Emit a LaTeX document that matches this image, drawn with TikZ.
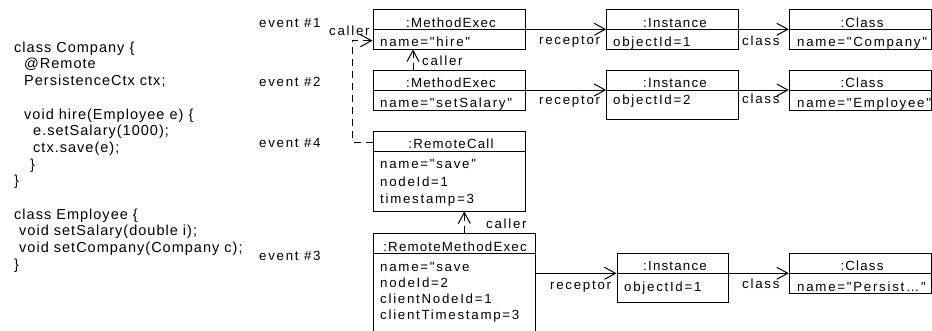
\documentclass[tikz,border=0pt]{standalone}
\usepackage{fontspec}
\setmainfont{Liberation Sans}[LetterSpace=13, Ligatures=TeXOff]
\newfontfamily\codefont{Liberation Sans}[LetterSpace=7, Ligatures=TeXOff]
\newfontfamily\ttlfont{Liberation Sans}[LetterSpace=9, Ligatures=TeXOff]
\usetikzlibrary{arrows.meta,fit}
\tikzset{
  x=1pt, y=-1pt,
  box/.style={draw, line width=1pt, inner sep=0pt},
  txt/.style={inner sep=0pt, anchor=base west, font=\fontsize{13.3}{16}\selectfont},
  code/.style={inner sep=0pt, anchor=base west, font=\codefont\fontsize{14.5}{17}\selectfont},
  ttl/.style={inner sep=0pt, anchor=base, font=\ttlfont\fontsize{13.3}{16}\selectfont},
  assoc/.style={line width=1pt, -{Straight Barb[length=11pt,width=12pt,line width=1pt]}},
  calls/.style={assoc, dash pattern=on 7pt off 5pt},
}
\newcommand\objbox[6]{%
  \coordinate (#1-nw) at (#2,#3);
  \coordinate (#1-se) at (#4,#5);
  \node[box, fit=(#1-nw)(#1-se)] (#1) {};
  \draw[line width=1pt] (#1.west |- 0,#6) -- (#1.east |- 0,#6);
}
\begin{document}
\begin{tikzpicture}
\useasboundingbox (0,0) rectangle (932,330);
\clip (0,0) rectangle (932,330);
% code
\node[code] (c1) at (14,52.2) {class Company \{};
\node[code] (c2) at (24,68.9) {@Remote};
\node[code] (c3) at (24,85.6) {PersistenceCtx ctx;};
\node[code] (c4) at (24,119) {void hire(Employee e) \{};
\node[code] (c5) at (33,135.7) {e.setSalary(1000);};
\node[code] (c6) at (33,152.4) {ctx.save(e);};
\node[code] (c7) at (30,169.1) {\}};
\node[code] (c8) at (14,185.8) {\}};
\node[code] (c9) at (14,219.2) {class Employee \{};
\node[code] (c10) at (19,235.9) {void setSalary(double i);};
\node[code] (c11) at (19,252.6) {void setCompany(Company c);};
\node[code] (c12) at (14,269.3) {\}};
% event labels
\node[txt] (e1) at (259,27.7) {event \#1};
\node[txt] (e2) at (259,86.7) {event \#2};
\node[txt] (e4) at (259,147.7) {event \#4};
\node[txt] (e3) at (259,260.7) {event \#3};
% boxes
\objbox{me1}{373}{9.3}{525}{49}{29.3}
\node[ttl] at (451,27.7) {:MethodExec};
\node[txt] at (380,46) {name="hire"};
\objbox{me2}{373}{70.7}{525}{110}{90}
\node[ttl] at (451,87.7) {:MethodExec};
\node[txt] at (380,107.3) {name="setSalary"};
\objbox{rc}{373}{131}{525}{211}{151.7}
\node[ttl] at (451,148.3) {:RemoteCall};
\node[txt] at (380,168.3) {name="save"};
\node[txt] at (380,186) {nodeId=1};
\node[txt] at (380,203.5) {timestamp=3};
\objbox{rme}{373}{233}{535}{340}{253.3}
\node[ttl] at (455,251) {:RemoteMethodExec};
\node[txt] at (380,271) {name="save};
\node[txt] at (380,287.5) {nodeId=2};
\node[txt] at (380,303.3) {clientNodeId=1};
\node[txt] at (380,319.3) {clientTimestamp=3};
\objbox{in1}{606.7}{9.3}{738.3}{49}{29.3}
\node[ttl] at (675,27.3) {:Instance};
\node[txt] at (613,46.7) {objectId=1};
\objbox{in2}{606.7}{70.7}{738.3}{119.3}{90}
\node[ttl] at (675,87.7) {:Instance};
\node[txt] at (613,104.3) {objectId=2};
\objbox{in3}{617}{253.3}{728}{302.7}{273.3}
\node[ttl] at (675,270.7) {:Instance};
\node[txt] at (624,291.7) {objectId=1};
\objbox{cl1}{789.3}{9.3}{931}{49}{29.3}
\node[ttl] at (862,27.3) {:Class};
\node[txt] at (797,46.7) {name="Company"};
\objbox{cl2}{789.3}{70.7}{931}{110}{90}
\node[ttl] at (862,87.7) {:Class};
\node[txt] at (797,107.3) {name="Employee"};
\objbox{cl3}{789.3}{253.3}{931}{293.3}{273.3}
\node[ttl] at (862,270.7) {:Class};
\node[txt] at (797,291) {name="Persist…"};
% associations
\draw[assoc] (me1.east |- 0,29.3) -- (in1.west |- 0,29.3);
\draw[assoc] (in1.east |- 0,29.3) -- (cl1.west |- 0,29.3);
\draw[assoc] (me2.east |- 0,90) -- (in2.west |- 0,90);
\draw[assoc] (in2.east |- 0,90) -- (cl2.west |- 0,90);
\draw[assoc] (rme.east |- 0,273.3) -- (in3.west |- 0,273.3);
\draw[assoc] (in3.east |- 0,273.3) -- (cl3.west |- 0,273.3);
\node[txt] (r1) at (539,44) {receptor};
\node[txt] (r2) at (539,104) {receptor};
\node[txt] (r3) at (550,289) {receptor};
\node[txt] (k1) at (742,45) {class};
\node[txt] (k2) at (742,103) {class};
\node[txt] (k3) at (742,288.3) {class};
% caller links
\draw[calls] (me2.north -| 413,0) -- (me1.south -| 413,0);
\draw[calls] (rme.north -| 464.3,0) -- (rc.south -| 464.3,0);
\draw[calls] (rc.west |- 0,142.3) -- ++(-20,0) |- (me1.west |- 0,40.7);
\node[txt] (l1) at (329,35.7) {caller};
\node[txt] (l2) at (422,65.7) {caller};
\node[txt] (l3) at (486,228.3) {caller};
\end{tikzpicture}
\end{document}
